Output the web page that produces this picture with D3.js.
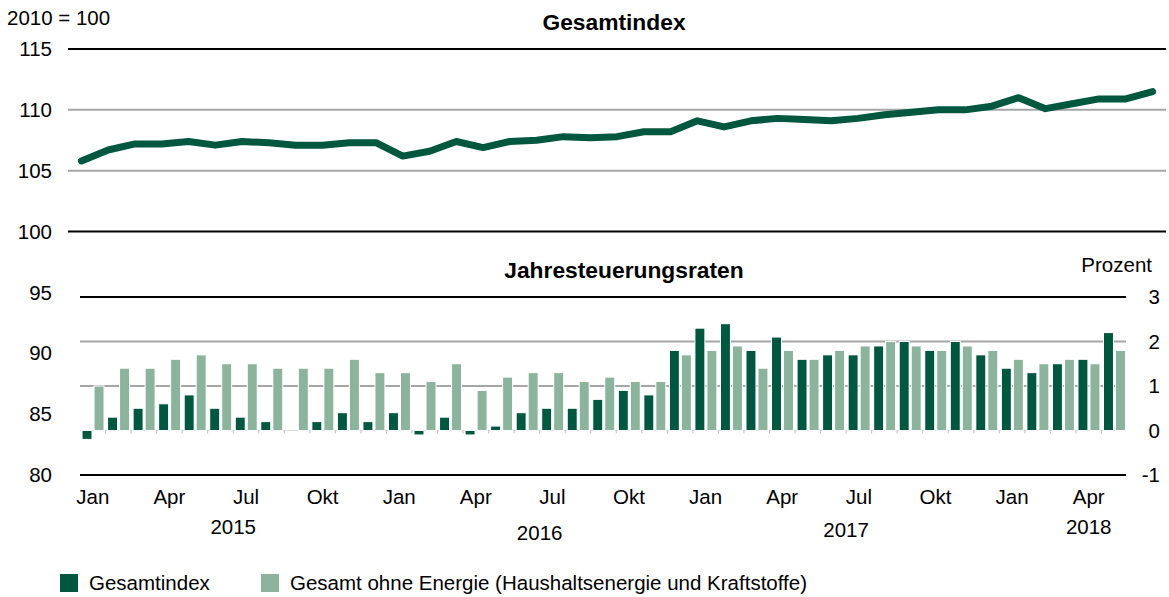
<!DOCTYPE html>
<html>
<head>
<meta charset="utf-8">
<script src="https://cdn.jsdelivr.net/npm/d3@7"></script>
<style>
  body { margin: 0; background: #fff; }
  svg { display: block; font-family: "Liberation Sans", Arial, sans-serif; }
  .lbl { font-size: 20.5px; fill: #000; }
  .title { font-size: 22.8px; font-weight: bold; fill: #000; }
</style>
</head>
<body>
<svg width="1169" height="597"></svg>
<script>
// Jan 2015 - Mai 2018
const months = d3.range(41);
const monthLabels = ['Jan', 'Apr', 'Jul', 'Okt'];
const years = ['2015', '2016', '2017', '2018'];

// Verbraucherpreisindex, 2010 = 100
const gesamtIndex = [
  105.8, 106.7, 107.2, 107.2, 107.4, 107.1, 107.4, 107.3, 107.1, 107.1, 107.3, 107.3,
  106.2, 106.6, 107.4, 106.9, 107.4, 107.5, 107.8, 107.7, 107.8, 108.2, 108.2, 109.1,
  108.6, 109.1, 109.3, 109.2, 109.1, 109.3, 109.6, 109.8, 110.0, 110.0, 110.3, 111.0,
  110.1, 110.5, 110.9, 110.9, 111.5
];

// Veraenderung gegenueber Vorjahresmonat in %
const rateGesamt = [
  -0.2, 0.3, 0.5, 0.6, 0.8, 0.5, 0.3, 0.2, 0.0, 0.2, 0.4, 0.2,
  0.4, -0.1, 0.3, -0.1, 0.1, 0.4, 0.5, 0.5, 0.7, 0.9, 0.8, 1.8,
  2.3, 2.4, 1.8, 2.1, 1.6, 1.7, 1.7, 1.9, 2.0, 1.8, 2.0, 1.7,
  1.4, 1.3, 1.5, 1.6, 2.2
];
const rateOhneEnergie = [
  1.0, 1.4, 1.4, 1.6, 1.7, 1.5, 1.5, 1.4, 1.4, 1.4, 1.6, 1.3,
  1.3, 1.1, 1.5, 0.9, 1.2, 1.3, 1.3, 1.1, 1.2, 1.1, 1.1, 1.7,
  1.8, 1.9, 1.4, 1.8, 1.6, 1.8, 1.9, 2.0, 1.9, 1.8, 1.9, 1.8,
  1.6, 1.5, 1.6, 1.5, 1.8
];

const dark = '#00573f';
const light = '#8cb39b';

const svg = d3.select('svg');

const xTop = d3.scaleBand().domain(months).range([68, 1166]);
const xBot = d3.scaleBand().domain(months).range([80, 1127]);
const yLeft = d3.scaleLinear().domain([80, 115]).range([475, 49]);
const yRight = d3.scaleLinear().domain([-1, 3]).range([475, 297]);

// grid, oberer Teil
svg.append('g').selectAll('line').data([115, 110, 105, 100])
  .enter().append('line')
  .attr('x1', 68).attr('x2', 1166)
  .attr('y1', d => yLeft(d)).attr('y2', d => yLeft(d))
  .attr('stroke', d => (d === 115 || d === 100) ? '#000' : '#a6a6a6')
  .attr('stroke-width', 2);

// grid, unterer Teil
svg.append('g').selectAll('line').data([3, 2, 1, -1])
  .enter().append('line')
  .attr('x1', 80).attr('x2', 1126)
  .attr('y1', d => yRight(d)).attr('y2', d => yRight(d))
  .attr('stroke', d => (d === 3 || d === -1) ? '#000' : '#a6a6a6')
  .attr('stroke-width', 2);

// Nulllinie mit kleinen Strichen zwischen den Monaten
svg.append('line')
  .attr('x1', 80).attr('x2', 1126)
  .attr('y1', yRight(0)).attr('y2', yRight(0))
  .attr('stroke', '#d9d9d9').attr('stroke-width', 1);
svg.append('g').selectAll('line').data(months.slice(1))
  .enter().append('line')
  .attr('x1', d => xBot(d)).attr('x2', d => xBot(d))
  .attr('y1', yRight(0)).attr('y2', yRight(0) + 3)
  .attr('stroke', '#bfbfbf');

// Linke Achse
svg.append('g').selectAll('text').data([115, 110, 105, 100, 95, 90, 85, 80])
  .enter().append('text')
  .attr('class', 'lbl')
  .attr('x', 52).attr('y', d => yLeft(d))
  .attr('dy', '0.35em')
  .attr('text-anchor', 'end')
  .text(d => d);

// Rechte Achse
svg.append('g').selectAll('text').data([3, 2, 1, 0, -1])
  .enter().append('text')
  .attr('class', 'lbl')
  .attr('x', 1160).attr('y', d => yRight(d))
  .attr('dy', '0.35em')
  .attr('text-anchor', 'end')
  .text(d => d);

// Balken
const bw = xBot.bandwidth() * 0.39;
const bars = svg.append('g');
bars.selectAll('rect.g').data(months)
  .enter().append('rect')
  .attr('class', 'g')
  .attr('x', d => xBot(d) + xBot.bandwidth() * 0.08)
  .attr('width', bw)
  .attr('y', d => yRight(Math.max(0, rateGesamt[d])))
  .attr('height', d => Math.abs(yRight(rateGesamt[d]) - yRight(0)))
  .attr('fill', dark)
  .attr('stroke', '#fff').attr('stroke-width', 1);
bars.selectAll('rect.o').data(months)
  .enter().append('rect')
  .attr('class', 'o')
  .attr('x', d => xBot(d) + xBot.bandwidth() * 0.55)
  .attr('width', bw)
  .attr('y', d => yRight(Math.max(0, rateOhneEnergie[d])))
  .attr('height', d => Math.abs(yRight(rateOhneEnergie[d]) - yRight(0)))
  .attr('fill', light)
  .attr('stroke', '#fff').attr('stroke-width', 1);

// Linie
const line = d3.line()
  .x(d => xTop(d) + xTop.bandwidth() / 2)
  .y(d => yLeft(gesamtIndex[d]));
svg.append('path')
  .datum(months)
  .attr('d', line)
  .attr('fill', 'none')
  .attr('stroke', dark)
  .attr('stroke-width', 7)
  .attr('stroke-linecap', 'round')
  .attr('stroke-linejoin', 'round');

// Monatsbeschriftung
svg.append('g').selectAll('text').data(months.filter(d => d % 3 === 0))
  .enter().append('text')
  .attr('class', 'lbl')
  .attr('x', d => xBot(d) + xBot.bandwidth() / 2)
  .attr('y', 504)
  .attr('text-anchor', 'middle')
  .text(d => monthLabels[(d % 12) / 3]);

// Jahre
const yearPos = [5.5, 17.5, 29.5, 39];
const yearY = [534, 540, 537, 534];
svg.append('g').selectAll('text').data(years)
  .enter().append('text')
  .attr('class', 'lbl')
  .attr('x', (d, i) => xBot(0) + xBot.step() * (yearPos[i] + 0.5))
  .attr('y', (d, i) => yearY[i])
  .attr('text-anchor', 'middle')
  .text(d => d);

// Titel
svg.append('text').attr('class', 'lbl').attr('x', 7).attr('y', 25).text('2010 = 100');
svg.append('text').attr('class', 'title').attr('x', 614).attr('y', 30)
  .attr('text-anchor', 'middle').text('Gesamtindex');
svg.append('text').attr('class', 'title').attr('x', 624).attr('y', 278)
  .attr('text-anchor', 'middle').text('Jahresteuerungsraten');
svg.append('text').attr('class', 'lbl').attr('x', 1152).attr('y', 272)
  .attr('text-anchor', 'end').text('Prozent');

// Legende
const legend = [
  { label: 'Gesamtindex', color: dark, x: 60 },
  { label: 'Gesamt ohne Energie (Haushaltsenergie und Kraftstoffe)', color: light, x: 261 }
];
const lg = svg.append('g').selectAll('g').data(legend)
  .enter().append('g')
  .attr('transform', d => `translate(${d.x},574)`);
lg.append('rect').attr('width', 18).attr('height', 18).attr('fill', d => d.color);
lg.append('text').attr('class', 'lbl').attr('x', 29).attr('y', 16).text(d => d.label);
</script>
</body>
</html>
